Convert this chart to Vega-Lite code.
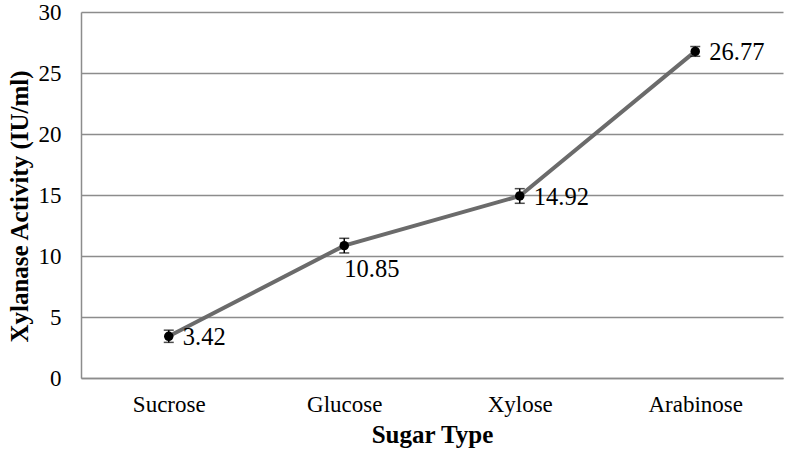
{
  "$schema": "https://vega.github.io/schema/vega-lite/v6.json",
  "autosize": {"type": "none"},
  "width": 702,
  "height": 366,
  "padding": {"left": 81, "top": 12, "right": 3, "bottom": 77},
  "background": "white",
  "config": {
    "view": {"stroke": null},
    "font": "Liberation Serif"
  },
  "data": {
    "values": [
      {"sugar": "Sucrose", "activity": 3.42, "err": 0.5, "pos": "right"},
      {"sugar": "Glucose", "activity": 10.85, "err": 0.6, "pos": "below"},
      {"sugar": "Xylose", "activity": 14.92, "err": 0.6, "pos": "right"},
      {"sugar": "Arabinose", "activity": 26.77, "err": 0.4, "pos": "right"}
    ]
  },
  "transform": [
    {"calculate": "datum.activity - datum.err", "as": "lo"},
    {"calculate": "datum.activity + datum.err", "as": "hi"}
  ],
  "encoding": {
    "x": {
      "field": "sugar",
      "type": "nominal",
      "sort": null,
      "scale": {"type": "point", "padding": 0.5},
      "axis": {
        "title": "Sugar Type",
        "titleFont": "Liberation Serif",
        "titleFontSize": 25,
        "titleFontWeight": "bold",
        "titleColor": "black",
        "titlePadding": 6,
        "labelFont": "Liberation Serif",
        "labelFontSize": 23,
        "labelColor": "black",
        "labelPadding": 15,
        "labelAngle": 0,
        "ticks": false,
        "grid": false,
        "domainColor": "#8c8c8c",
        "domainWidth": 1.5
      }
    }
  },
  "layer": [
    {
      "mark": {"type": "line", "color": "#6b6b6b", "strokeWidth": 4},
      "encoding": {
        "y": {
          "field": "activity",
          "type": "quantitative",
          "scale": {"domain": [0, 30], "nice": false},
          "axis": {
            "title": "Xylanase Activity (IU/ml)",
            "titleFont": "Liberation Serif",
            "titleFontSize": 25,
            "titleFontWeight": "bold",
            "titleColor": "black",
            "titlePadding": 6,
            "titleY": 194,
            "labelFont": "Liberation Serif",
            "labelFontSize": 23,
            "labelColor": "black",
            "labelPadding": 20,
            "values": [0, 5, 10, 15, 20, 25, 30],
            "ticks": false,
            "grid": true,
            "gridColor": "#8c8c8c",
            "gridWidth": 1.5,
            "domainColor": "#8c8c8c",
            "domainWidth": 1.5
          }
        }
      }
    },
    {
      "mark": {"type": "rule", "color": "black", "strokeWidth": 1.5},
      "encoding": {
        "y": {"field": "lo", "type": "quantitative"},
        "y2": {"field": "hi"}
      }
    },
    {
      "mark": {"type": "tick", "color": "black", "thickness": 1.5, "size": 10, "orient": "horizontal"},
      "encoding": {"y": {"field": "lo", "type": "quantitative"}}
    },
    {
      "mark": {"type": "tick", "color": "black", "thickness": 1.5, "size": 10, "orient": "horizontal"},
      "encoding": {"y": {"field": "hi", "type": "quantitative"}}
    },
    {
      "mark": {"type": "point", "filled": true, "color": "black", "size": 90, "opacity": 1},
      "encoding": {"y": {"field": "activity", "type": "quantitative"}}
    },
    {
      "transform": [{"filter": "datum.pos == 'right'"}],
      "mark": {"type": "text", "align": "left", "baseline": "middle", "dx": 14, "dy": 2, "fontSize": 24.5, "font": "Liberation Serif", "color": "black"},
      "encoding": {
        "y": {"field": "activity", "type": "quantitative"},
        "text": {"field": "activity", "type": "quantitative", "format": ".2f"}
      }
    },
    {
      "transform": [{"filter": "datum.pos == 'below'"}],
      "mark": {"type": "text", "align": "left", "baseline": "middle", "dx": 0, "dy": 24, "fontSize": 24.5, "font": "Liberation Serif", "color": "black"},
      "encoding": {
        "y": {"field": "activity", "type": "quantitative"},
        "text": {"field": "activity", "type": "quantitative", "format": ".2f"}
      }
    }
  ]
}
